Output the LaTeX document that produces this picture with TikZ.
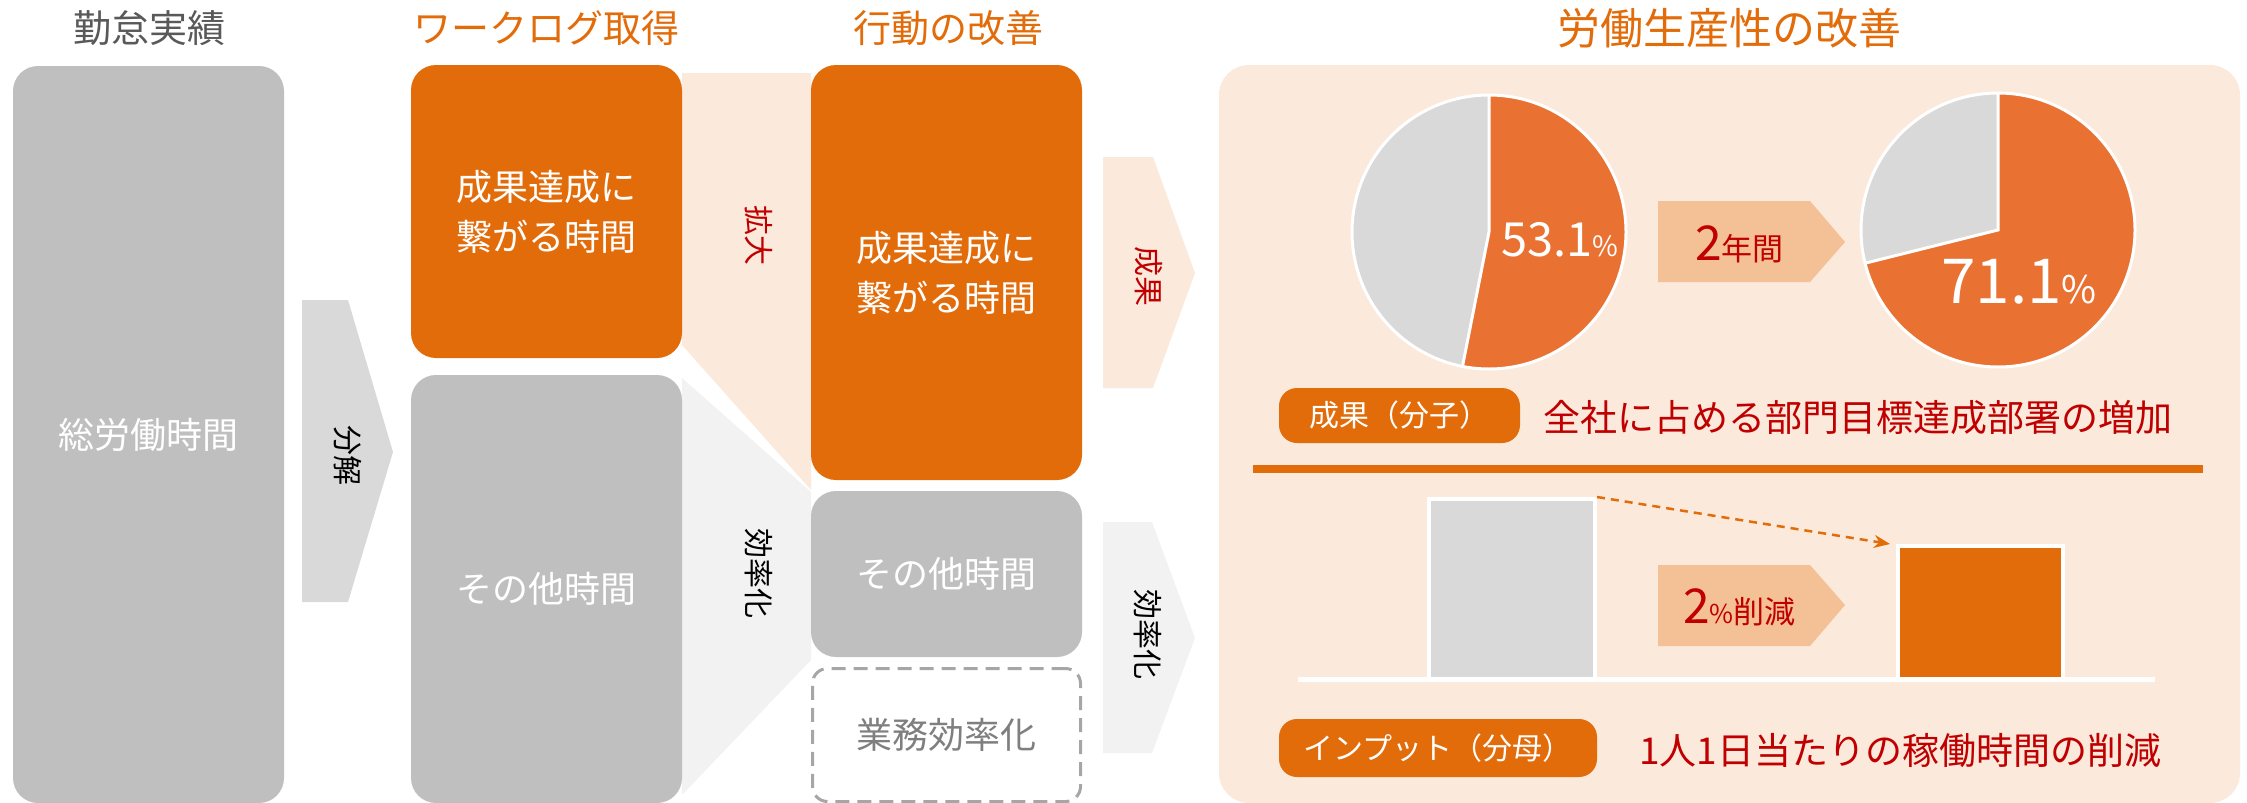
\documentclass[tikz,border=0pt]{standalone}
\usepackage{fontspec}
\setmainfont{Noto Sans CJK JP}
\usetikzlibrary{arrows.meta}
\definecolor{org}{HTML}{E36C0A}
\definecolor{pieorg}{HTML}{E97132}
\definecolor{gbox}{HTML}{BFBFBF}
\definecolor{garrow}{HTML}{D9D9D9}
\definecolor{gband}{HTML}{F2F2F2}
\definecolor{lorg}{HTML}{FBE9DB}
\definecolor{morg}{HTML}{F4C095}
\definecolor{dred}{HTML}{C00000}
\definecolor{tgray}{HTML}{595959}
\definecolor{dgray}{HTML}{A6A6A6}
\definecolor{tgraytwo}{HTML}{7F7F7F}
\newcommand\fsz[1]{\fontsize{#1}{#1}\selectfont}
\tikzset{
  ttl/.style={font=\fsz{38}, inner sep=0},
  bigbox/.style={rounded corners=25, inner sep=0, text=white, align=center, font={\fontsize{36}{50}\selectfont}},
  vlab/.style={rotate=-90, font=\fsz{30}, inner sep=0},
  lab/.style={fill=org, rounded corners=18, inner sep=0, text=white, font=\fsz{30}},
  redtxt/.style={text=dred, font=\fsz{37}, inner sep=0, anchor=west},
  piebord/.style={white, line width=3},
}
\begin{document}
\begin{tikzpicture}[x=1pt,y=-1pt]
\useasboundingbox (0,0) rectangle (2247,803);
% titles
\node[ttl, text=tgray] (t1) at (149,28) {勤怠実績};
\node[ttl, text=org] (t2) at (546,28) {ワークログ取得};
\node[ttl, text=org] (t3) at (948,28) {行動の改善};
\node[ttl, text=org, font=\fsz{43}] (t4) at (1729,28) {労働生産性の改善};
% bands
\fill[gband] (682,378) -- (811,492) -- (811,660) -- (682,795) -- cycle;
\fill[lorg] (682,73) -- (811,73) -- (811,490) -- (682,345) -- cycle;
% left boxes
\node[bigbox, fill=gbox, minimum width=271, minimum height=737] (total) at (148.5,434.5) {総労働時間};
\fill[garrow] (302,300) -- (348,300) -- (393,452) -- (348,602) -- (302,602) -- cycle;
\node[vlab] (bunkai) at (348,455) {分解};
\node[bigbox, fill=org, minimum width=271, minimum height=293] (seika1) at (546.5,211.5) {成果達成に\\繋がる時間};
\node[bigbox, fill=gbox, minimum width=271, minimum height=428] (sonota1) at (546.5,589) {その他時間};
\node[vlab, text=dred] (kakudai) at (759,235) {拡大};
\node[vlab] (kouritsu1) at (759,573) {効率化};
\node[bigbox, fill=org, minimum width=271, minimum height=415] (seika2) at (946.5,272.5) {成果達成に\\繋がる時間};
\node[bigbox, fill=gbox, minimum width=271, minimum height=166] (sonota2) at (946.5,574) {その他時間};
\node[bigbox, draw=dgray, dash pattern=on 14pt off 8pt, line width=3, text=tgraytwo, rounded corners=15, minimum width=268, minimum height=133] (gyomu) at (946.5,735) {業務効率化};
% right arrows
\fill[lorg] (1103,157) -- (1153,157) -- (1195,273) -- (1153,388) -- (1103,388) -- cycle;
\node[vlab, text=dred] (seikaarr) at (1149,276) {成果};
\fill[gband] (1103,522) -- (1152,522) -- (1195,638) -- (1152,753) -- (1103,753) -- cycle;
\node[vlab] (kouritsu2) at (1148,634) {効率化};
% panel
\fill[lorg, rounded corners=30] (1219,65) rectangle (2240,803);
% pie 1
\begin{scope}[shift={(1489,232)}]
\fill[garrow] (0,0) circle[radius=137];
\fill[pieorg] (0,0) -- (-90:137) arc[start angle=-90, end angle=101.16, radius=137] -- cycle;
\draw[piebord] (-90:137) -- (0,0) -- (101.16:137);
\draw[piebord] (0,0) circle[radius=137];
\end{scope}
\node[anchor=base west, inner sep=0, text=white] (p1) at (1501,256) {\fsz{47}53.1\fsz{28}\%};
% pie 2
\begin{scope}[shift={(1998,230)}]
\fill[garrow] (0,0) circle[radius=137];
\fill[pieorg] (0,0) -- (-90:137) arc[start angle=-90, end angle=165.96, radius=137] -- cycle;
\draw[piebord] (-90:137) -- (0,0) -- (165.96:137);
\draw[piebord] (0,0) circle[radius=137];
\end{scope}
\node[anchor=base west, inner sep=0, text=white] (p2) at (1941,303) {\fsz{62}71.1\fsz{38}\%};
% 2 years arrow
\fill[morg] (1658,201) -- (1810,201) -- (1845,242) -- (1810,282) -- (1658,282) -- cycle;
\node[anchor=base west, inner sep=0, text=dred] (yr) at (1695,260) {\fsz{48}2\fsz{31}年間};
% labels
\node[lab, minimum width=241, minimum height=55] (lab1) at (1399.5,415.5) {成果（分子）};
\node[redtxt] (txt1) at (1543,418) {全社に占める部門目標達成部署の増加};
\draw[org, line width=8] (1253,469) -- (2203,469);
% bars
\draw[white, line width=5] (1298,679) -- (2155,679);
\node[fill=garrow, draw=white, line width=4, minimum width=166, minimum height=180, inner sep=0] (bar1) at (1512,589) {};
\node[fill=org, draw=white, line width=4, minimum width=165, minimum height=133, inner sep=0] (bar2) at (1980.5,612.5) {};
\coordinate (arrend) at ([xshift=-6]bar2.north west);
\draw[org, line width=2.5, dash pattern=on 8pt off 6pt, -{Stealth[length=16pt,width=13pt]}] (bar1.north east) -- (arrend);
\fill[morg] (1658,565) -- (1810,565) -- (1845,605) -- (1810,646) -- (1658,646) -- cycle;
\node[anchor=base west, inner sep=0, text=dred] (red) at (1683,623) {\fsz{48}2\fsz{26}\%\fsz{31}削減};
\node[lab, minimum width=318, minimum height=58] (lab2) at (1438,748) {インプット（分母）};
\node[redtxt] (txt2) at (1639,751) {1人1日当たりの稼働時間の削減};
\end{tikzpicture}
\end{document}
